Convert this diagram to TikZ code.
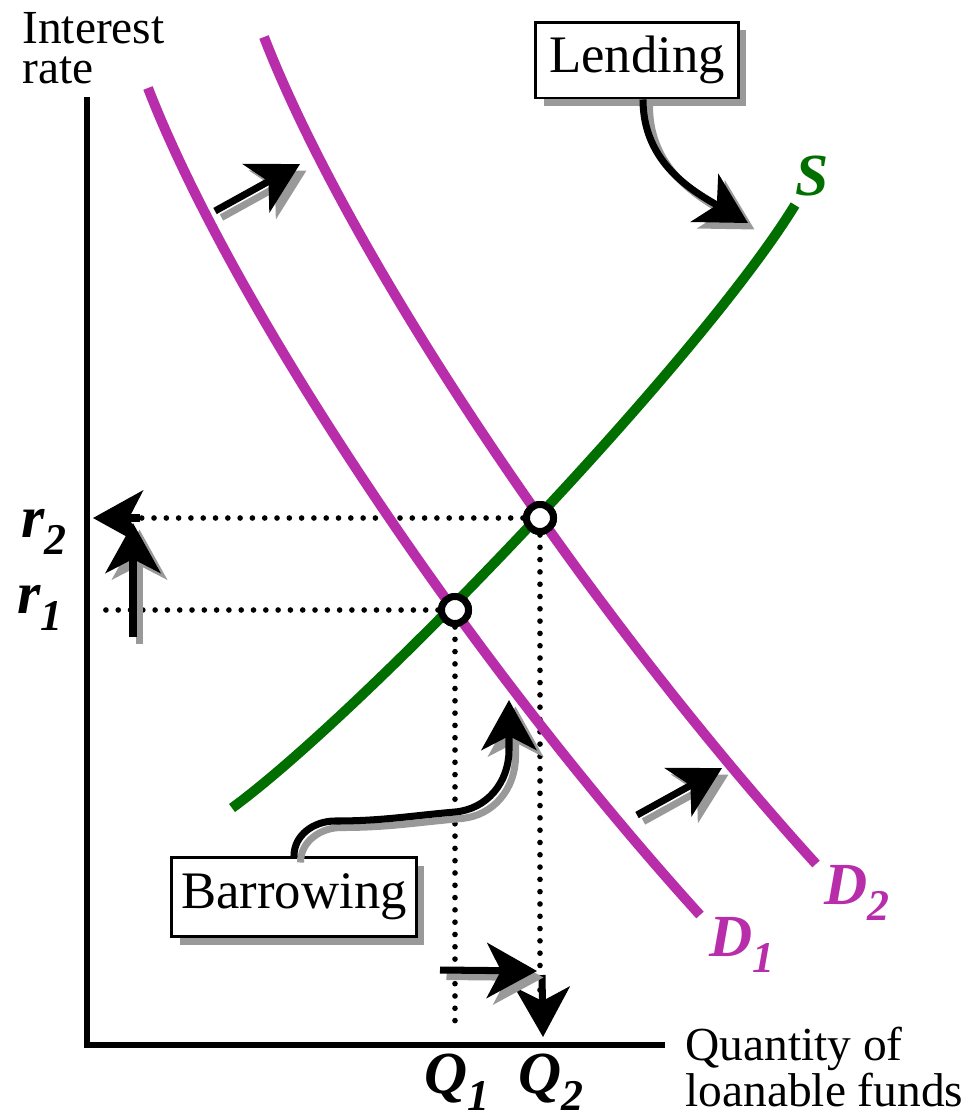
\documentclass[tikz,border=0pt]{standalone}
\usepackage{fontspec}
\setmainfont{Liberation Serif}
\usetikzlibrary{arrows.meta,shadows}
\definecolor{demand}{HTML}{B82DAA}
\definecolor{supply}{HTML}{006F00}
\definecolor{shadowgray}{HTML}{999999}
\newcommand{\lblsub}[1]{\raisebox{-0.28em}{\fontsize{25}{25}\selectfont #1}}
\tikzset{
  bigtip/.style={-{Stealth[length=1cm,width=1.1cm,inset=0.28cm]}},
  every node/.style={text=black},
  axis/.style={line width=3.4pt},
  curve/.style={line width=5.7pt},
  dotline/.style={line width=3.2pt,line cap=round,dash pattern=on 0pt off 7pt},
  eqpt/.style={circle,draw,fill=white,line width=4pt,minimum size=0.54cm,inner sep=0pt},
  labelbox/.style={draw,fill=white,line width=1.7pt,font=\fontsize{30}{32}\selectfont,inner sep=0pt,
    general shadow={fill=shadowgray,shadow xshift=0.16cm,shadow yshift=-0.16cm}},
  shadowarrow/.style={bigtip,line width=4pt,draw=shadowgray,transform canvas={xshift=0.13cm,yshift=-0.13cm}},
  plainarrow/.style={bigtip,line width=4pt},
  axislabel/.style={font=\fontsize{27}{23}\selectfont,align=left,inner sep=0pt},
  curvelabel/.style={font=\fontsize{34}{34}\selectfont\bfseries\itshape,inner sep=0pt},
}

\begin{document}
\begin{tikzpicture}[x=0.02cm,y=-0.02cm]
\useasboundingbox (0,0) rectangle (979,1120);

% axes
\coordinate (ytop) at (87,97);
\coordinate (xend) at (665,1045);
\draw[axis] (ytop) |- (xend);
\node[axislabel,anchor=north west] (ylbl) at (22,12) {Interest\\rate};
\node[axislabel,anchor=north west] (xlbl) at (685,1027) {Quantity of\\loanable funds};

% equilibria
\node[eqpt] (eq1) at (455,610) {};
\node[eqpt] (eq2) at (540,518) {};
\coordinate (r1end) at (95,610);
\coordinate (r2end) at (128,518);
\coordinate (q1end) at (455,1030);
\coordinate (q2end) at (540,1000);
\draw[dotline] (eq1) -- (r1end);
\draw[dotline] (eq2) -- (r2end);
\draw[dotline] (eq1) -- (q1end);
\draw[dotline] (eq2) -- (q2end);

% curves
\draw[curve,supply] (232,808) .. controls (362,713) and (700,360) .. (795,205);
\draw[curve,demand] (148,88) .. controls (230,300) and (460,650) .. (700,915);
\draw[curve,demand] (264,37) .. controls (346,249) and (576,599) .. (816,864);
\node[eqpt] at (eq1) {};
\node[eqpt] at (eq2) {};

\node[curvelabel,text=supply] (slbl) at (812,176) {S};
\node[curvelabel,text=demand] (d1lbl) at (742,945) {D\lblsub{1}};
\node[curvelabel,text=demand] (d2lbl) at (857,893) {D\lblsub{2}};
\node[curvelabel] (r2lbl) at (44,532) {r\lblsub{2}};
\node[curvelabel] (r1lbl) at (40,608) {r\lblsub{1}};
\node[curvelabel] (q1lbl) at (457,1082) {Q\lblsub{1}};
\node[curvelabel] (q2lbl) at (551,1082) {Q\lblsub{2}};

% shift arrows
\coordinate (a1s) at (215,211);
\coordinate (a1e) at (300,164);
\coordinate (a2s) at (637,815);
\coordinate (a2e) at (722,768);
\coordinate (ups) at (133,637);
\coordinate (upe) at (133,523);
\coordinate (lfs) at (140,518);
\coordinate (lfe) at (93,518);
\coordinate (rts) at (440,970);
\coordinate (rte) at (537,971);
\coordinate (dns) at (542,975);
\coordinate (dne) at (543,1037);
\draw[shadowarrow] (a1s) -- (a1e);
\draw[plainarrow] (a1s) -- (a1e);
\draw[shadowarrow] (a2s) -- (a2e);
\draw[plainarrow] (a2s) -- (a2e);
\draw[plainarrow] (lfs) -- (lfe);
\draw[shadowarrow] (ups) -- (upe);
\draw[plainarrow] (ups) -- (upe);
\draw[plainarrow] (dns) -- (dne);
\draw[shadowarrow] (rts) -- (rte);
\draw[plainarrow] (rts) -- (rte);

% boxes
\node[labelbox,minimum width=4.05cm,minimum height=1.52cm] (lend) at (637,60) {Lending};
\node[labelbox,minimum width=4.9cm,minimum height=1.58cm] (borrow) at (294,897) {Barrowing};
\coordinate (lendtip) at (748,223);
\coordinate (borrowtip) at (509,700);
\draw[shadowarrow] ([xshift=0.12cm]lend.south) to[out=-90,in=150] (lendtip);
\draw[plainarrow] ([xshift=0.12cm]lend.south) to[out=-90,in=150] (lendtip);
\draw[shadowarrow] (borrow.north) to[out=90,in=180] (335,821) to[out=0,in=185] (455,812)
  to[out=5,in=-90] (509,750) -- (borrowtip);
\draw[plainarrow] (borrow.north) to[out=90,in=180] (335,821) to[out=0,in=185] (455,812)
  to[out=5,in=-90] (509,750) -- (borrowtip);

\end{tikzpicture}
\end{document}
